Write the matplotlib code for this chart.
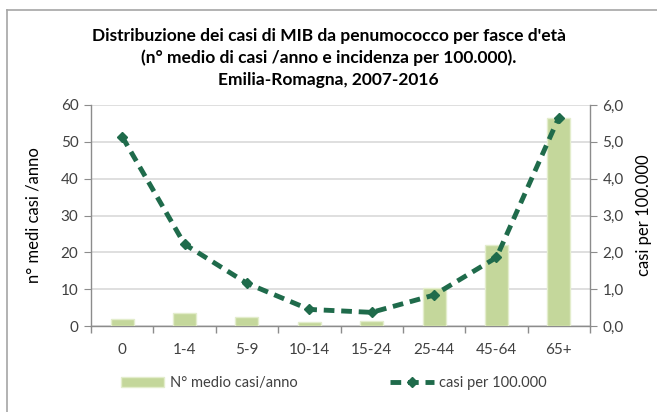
import matplotlib.pyplot as plt
from matplotlib.lines import Line2D
from matplotlib.ticker import FuncFormatter, MultipleLocator

plt.rcParams['font.family'] = ['Lato', 'DejaVu Sans']

fasce = ['0', '1-4', '5-9', '10-14', '15-24', '25-44', '45-64', '65+']
casi_anno = [1.9, 3.6, 2.5, 1.0, 1.4, 10.3, 22.1, 56.5]
incidenza = [5.14, 2.22, 1.16, 0.45, 0.37, 0.84, 1.86, 5.66]

bar_col = '#c4d79b'
line_col = '#1f6b4b'
grid_col = '#d9d9d9'
axis_col = '#8c8c8c'
text_col = '#404040'

fig = plt.figure(figsize=(6.57, 4.12), dpi=100)
ax = fig.add_axes([91 / 657, 1 - 326 / 412, (590 - 91) / 657, (326 - 105) / 412])
ax2 = ax.twinx()

x = list(range(len(fasce)))
bars = ax.bar(x, casi_anno, width=0.37, color=bar_col, edgecolor='#e3edcc',
              linewidth=1.0, label='N° medio casi/anno', zorder=3)
line, = ax2.plot(x, incidenza, color=line_col, lw=3.5, ls=(0, (2.2, 1.4)),
                 marker='D', ms=5, mfc=line_col, mec=line_col,
                 label='casi per 100.000', zorder=4)

ax.set_xlim(-0.5, len(fasce) - 0.5)
ax.set_ylim(0, 60)
ax2.set_ylim(0, 6)
ax.yaxis.set_major_locator(MultipleLocator(10))
ax2.yaxis.set_major_locator(MultipleLocator(1))
ax2.yaxis.set_major_formatter(FuncFormatter(lambda v, p: f'{v:.1f}'.replace('.', ',')))

ax.set_xticks(x)
ax.set_xticklabels(fasce)
ax.set_xticks([i - 0.5 for i in range(len(fasce) + 1)], minor=True)
ax.tick_params(axis='x', which='major', length=0, pad=12, labelsize=11, labelcolor=text_col)
ax.tick_params(axis='x', which='minor', length=5, color=axis_col, width=1)
ax.tick_params(axis='y', length=5, color=axis_col, labelsize=11, labelcolor=text_col, pad=4)
ax2.tick_params(axis='y', length=5, color=axis_col, labelsize=11, labelcolor=text_col, pad=4)

ax.grid(axis='y', color=grid_col, lw=1.2, zorder=0)
ax.set_axisbelow(True)
for a in (ax, ax2):
    a.spines['top'].set_visible(False)
    for s in ('left', 'right', 'bottom'):
        a.spines[s].set_color(axis_col)
        a.spines[s].set_linewidth(1.0)
ax.spines['right'].set_visible(False)
ax2.spines['left'].set_visible(False)
ax2.spines['bottom'].set_visible(False)

ax.set_ylabel('n° medi casi /anno', fontsize=12, color='black', labelpad=14)
ax2.set_ylabel('casi per 100.000', fontsize=12, color='black', labelpad=9)

fig.text(0.5, 1 - 36 / 412, "Distribuzione dei casi di MIB da penumococco per fasce d'età",
         ha='center', va='center', fontsize=12.5, fontweight='bold')
fig.text(0.5, 1 - 58 / 412, "(n° medio di casi /anno e incidenza per 100.000).",
         ha='center', va='center', fontsize=12.5, fontweight='bold')
fig.text(0.5, 1 - 80 / 412, "Emilia-Romagna, 2007-2016",
         ha='center', va='center', fontsize=12.5, fontweight='bold')

fig.legend([bars, line], ['N° medio casi/anno', 'casi per 100.000'],
           loc='center', bbox_to_anchor=(0.508, 1 - 383 / 412), ncol=2, frameon=False,
           fontsize=10.5, columnspacing=6.3, handlelength=3.0, handletextpad=0.4,
           labelcolor=text_col)

# chart-area border (top and left edges visible in the crop)
fig.add_artist(Line2D([7 / 657, 7 / 657], [0, 1 - 10 / 412], color='#a6a6a6', lw=1.2))
fig.add_artist(Line2D([7 / 657, 1], [1 - 10 / 412, 1 - 10 / 412], color='#a6a6a6', lw=1.2))

fig.savefig('out.png', dpi=100)
